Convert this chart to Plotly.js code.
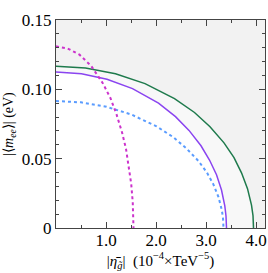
<!DOCTYPE html>
<html><head><meta charset="utf-8">
<script src="https://cdn.plot.ly/plotly-3.0.1.min.js"></script>
<style>html,body{margin:0;padding:0;background:#fff}#c{width:268px;height:273px}</style>
</head><body><div id="c"></div>
<script>
const greenEta = [0, 0.59, 1.19, 1.78, 2.37, 2.77, 3.08, 3.36, 3.56, 3.71, 3.83, 3.91, 3.94, 3.95];
const greenM   = [0.1166, 0.1153, 0.1112, 0.1041, 0.0933, 0.0833, 0.0730, 0.0614, 0.0508, 0.0398, 0.0284, 0.0165, 0.0090, 0];
const purpleEta = [0, 0.51, 1.02, 1.53, 2.05, 2.39, 2.66, 2.90, 3.07, 3.21, 3.31, 3.376, 3.40, 3.41];
const purpleM   = [0.1125, 0.1112, 0.1073, 0.1005, 0.0900, 0.0803, 0.0704, 0.0593, 0.0490, 0.0384, 0.0274, 0.0159, 0.0087, 0];
const blueEta = [0, 0.50, 1.01, 1.51, 2.01, 2.35, 2.61, 2.85, 3.02, 3.15, 3.25, 3.317, 3.34, 3.35];
const blueM   = [0.0916, 0.0906, 0.0874, 0.0818, 0.0733, 0.0654, 0.0573, 0.0483, 0.0399, 0.0313, 0.0223, 0.0129, 0.0071, 0];
const magEta = [0, 0.23, 0.47, 0.70, 0.93, 1.09, 1.21, 1.32, 1.40, 1.457, 1.504, 1.535, 1.545, 1.55];
const magM   = [0.131, 0.1295, 0.1250, 0.1170, 0.1048, 0.0936, 0.0820, 0.0690, 0.0571, 0.0447, 0.0319, 0.0185, 0.0101, 0];
const xTicks = [1, 2, 3, 4];
const xLabels = ["1.0", "2.0", "3.0", "4.0"];
const yTicks = [0, 0.05, 0.10, 0.15];
const yLabels = ["0", "0.05", "0.10", "0.15"];

const serif = 'Liberation Serif, Times New Roman, serif';
const traces = [
  {x: greenEta, y: greenM, mode: 'lines', fill: 'tozeroy', fillcolor: '#f8f8f8',
   line: {color: '#1e7a4c', width: 1.5}, hoverinfo: 'skip'},
  {x: purpleEta, y: purpleM, mode: 'lines', fill: 'tozeroy', fillcolor: '#ffffff',
   line: {color: '#8a44f0', width: 1.5}, hoverinfo: 'skip'},
  {x: blueEta, y: blueM, mode: 'lines',
   line: {color: '#5a9cff', width: 2, dash: 'dot'}, hoverinfo: 'skip'},
  {x: magEta, y: magM, mode: 'lines',
   line: {color: '#cc33cc', width: 2, dash: 'dot'}, hoverinfo: 'skip'}
];

const axCommon = {
  showgrid: false, zeroline: false, showline: true, linecolor: '#444', linewidth: 1,
  mirror: 'ticks', ticks: 'inside', ticklen: 6, tickcolor: '#444', tickwidth: 1,
  tickfont: {family: serif, size: 17, color: '#000'},
  layer: 'above traces', fixedrange: true
};

const layout = {
  width: 268, height: 273,
  margin: {l: 56, r: 3, t: 20, b: 45},
  paper_bgcolor: '#fff', plot_bgcolor: '#f2f2f2',
  showlegend: false,
  font: {family: serif, color: '#000'},
  xaxis: Object.assign({}, axCommon, {
    range: [0, 4.18], tickmode: 'array', tickvals: xTicks, ticktext: xLabels,
    ticklabelstandoff: -3,
    minor: {dtick: 0.5, ticks: 'inside', ticklen: 3, tickcolor: '#444'},
    title: {text: '|<i>η̄</i><sub><i>g̃</i></sub>|  (10<sup>−4</sup>×TeV<sup>−5</sup>)',
            font: {size: 15, family: serif}, standoff: 4}
  }),
  yaxis: Object.assign({}, axCommon, {
    range: [0, 0.15], tickmode: 'array', tickvals: yTicks, ticktext: yLabels,
    minor: {dtick: 0.01, ticks: 'inside', ticklen: 3, tickcolor: '#444'},
    title: {text: '|⟨<i>m</i><sub><i>ee</i></sub>⟩| (eV)',
            font: {size: 14, family: serif}, standoff: 4}
  })
};

Plotly.newPlot('c', traces, layout, {staticPlot: true, displayModeBar: false});
</script></body></html>
